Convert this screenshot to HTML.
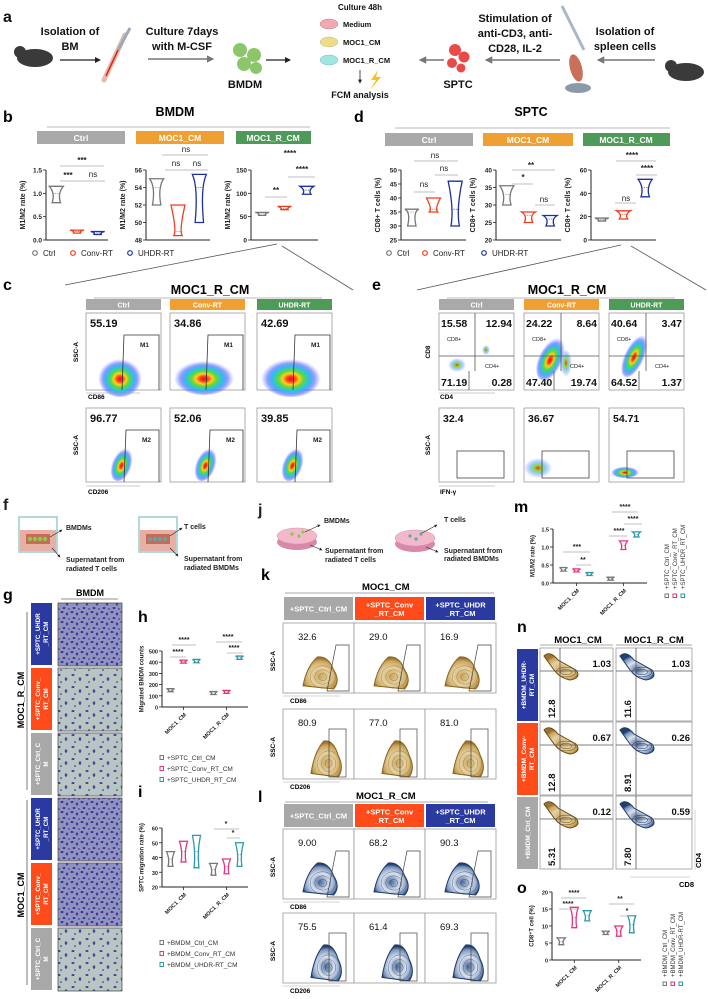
<!DOCTYPE html>
<html><head><meta charset="utf-8"><title>Figure</title>
<style>
html,body{margin:0;padding:0;background:#fff;}
svg{display:block;font-family:"Liberation Sans",Arial,sans-serif;}
.b{font-weight:bold;}
</style></head>
<body>
<svg id="fig" width="708" height="999" viewBox="0 0 708 999">
<defs>
<radialGradient id="pc" cx="50%" cy="55%" r="50%">
<stop offset="0" stop-color="#e0101a"/><stop offset="0.14" stop-color="#ff4020"/><stop offset="0.28" stop-color="#ffd01e"/><stop offset="0.42" stop-color="#5fd83a"/><stop offset="0.6" stop-color="#28c4e6"/><stop offset="0.8" stop-color="#3c58ff" stop-opacity="0.55"/><stop offset="1" stop-color="#6070ff" stop-opacity="0"/>
</radialGradient>
<radialGradient id="pcSparse" cx="50%" cy="50%" r="50%">
<stop offset="0" stop-color="#ff3020"/><stop offset="0.3" stop-color="#8be040"/><stop offset="0.6" stop-color="#40a0ff" stop-opacity="0.5"/><stop offset="1" stop-color="#6070ff" stop-opacity="0"/>
</radialGradient>
<radialGradient id="gold" cx="50%" cy="60%" r="55%">
<stop offset="0" stop-color="#c9a661"/><stop offset="0.5" stop-color="#e5d2a3"/><stop offset="0.85" stop-color="#caa55c"/><stop offset="1" stop-color="#9a7430"/>
</radialGradient>
<radialGradient id="navy" cx="50%" cy="60%" r="55%">
<stop offset="0" stop-color="#4a6898"/><stop offset="0.5" stop-color="#dbe3ef"/><stop offset="0.85" stop-color="#7d95bd"/><stop offset="1" stop-color="#22406f"/>
</radialGradient>
<pattern id="cellsLight" width="14" height="12" patternUnits="userSpaceOnUse">
<rect width="14" height="12" fill="#b8c6c3"/>
<ellipse cx="3" cy="3" rx="1.6" ry="1" fill="#4b3d9b"/><ellipse cx="10" cy="7" rx="1.3" ry="1.8" fill="#5244a3"/><ellipse cx="5" cy="10" rx="1" ry="0.8" fill="#4b3d9b"/>
</pattern>
<pattern id="cellsDense" width="10" height="10" patternUnits="userSpaceOnUse">
<rect width="10" height="10" fill="#8e93bf"/>
<ellipse cx="2" cy="2" rx="1.5" ry="1" fill="#3d2f8f"/><ellipse cx="7" cy="4" rx="1.2" ry="1.5" fill="#44369a"/><ellipse cx="4" cy="8" rx="1.4" ry="1" fill="#3d2f8f"/><ellipse cx="9" cy="9" rx="0.9" ry="0.9" fill="#4a3ca0"/>
</pattern>
<marker id="arr" viewBox="0 0 6 6" refX="5" refY="3" markerWidth="5" markerHeight="5" orient="auto"><path d="M0,0L6,3L0,6z" fill="#222"/></marker>
<marker id="arrG" viewBox="0 0 6 6" refX="5" refY="3" markerWidth="5" markerHeight="5" orient="auto"><path d="M0,0L6,3L0,6z" fill="#777"/></marker>
</defs>

<!-- Panel a -->
<g font-weight="bold" font-size="11" fill="#111">
<text x="3" y="22" font-size="16">a</text>
<ellipse cx="35" cy="58" rx="18" ry="9" fill="#3a3a3a"/>
<circle cx="20" cy="52" r="6" fill="#3a3a3a"/>
<text x="70" y="35" text-anchor="middle">Isolation of</text>
<text x="70" y="50" text-anchor="middle">BM</text>
<line x1="60" y1="60" x2="100" y2="60" stroke="#222" stroke-width="1.2" marker-end="url(#arr)"/>
<line x1="104" y1="80" x2="125" y2="35" stroke="#e8b8a8" stroke-width="5" stroke-linecap="round"/>
<line x1="106" y1="76" x2="118" y2="50" stroke="#d8281c" stroke-width="1.5"/>
<line x1="118" y1="50" x2="130" y2="28" stroke="#9ab" stroke-width="3"/>
<text x="182" y="35" text-anchor="middle">Culture 7days</text>
<text x="182" y="50" text-anchor="middle">with M-CSF</text>
<line x1="148" y1="59" x2="213" y2="59" stroke="#777" stroke-width="1.5" marker-end="url(#arrG)"/>
<g fill="#8cc66a"><circle cx="240" cy="50" r="7"/><circle cx="254" cy="55" r="7"/><circle cx="244" cy="64" r="7"/><circle cx="256" cy="68" r="6"/></g>
<text x="245" y="88" text-anchor="middle">BMDM</text>
<line x1="266" y1="60" x2="290" y2="60" stroke="#222" stroke-width="1.2" marker-end="url(#arr)"/>
<text x="360" y="10" text-anchor="middle" font-size="8">Culture 48h</text>
<ellipse cx="329" cy="24" rx="9" ry="5" fill="#f0a8b4" stroke="#c77" stroke-width="0.5"/>
<ellipse cx="329" cy="42" rx="9" ry="5" fill="#eedd88" stroke="#bb9" stroke-width="0.5"/>
<ellipse cx="329" cy="60" rx="9" ry="5" fill="#9ee6e2" stroke="#7bb" stroke-width="0.5"/>
<text x="343" y="27" font-size="7.5">Medium</text>
<text x="343" y="45" font-size="7.5">MOC1_CM</text>
<text x="343" y="63" font-size="7.5">MOC1_R_CM</text>
<line x1="360" y1="70" x2="360" y2="83" stroke="#222" stroke-width="0.8" marker-end="url(#arr)"/>
<path d="M378,70 L371,80 L376,80 L370,90 L381,77 L376,77z" fill="#f5c020"/>
<text x="360" y="98" text-anchor="middle" font-size="9">FCM analysis</text>
<line x1="444" y1="60" x2="420" y2="60" stroke="#777" stroke-width="1.5" marker-end="url(#arrG)"/>
<g fill="#e84a48"><circle cx="455" cy="50" r="6"/><circle cx="464" cy="57" r="5.5"/><circle cx="452" cy="63" r="5"/><circle cx="461" cy="68" r="4.5"/></g>
<text x="458" y="88" text-anchor="middle">SPTC</text>
<line x1="560" y1="60" x2="486" y2="60" stroke="#777" stroke-width="1.5" marker-end="url(#arrG)"/>
<text x="515" y="22" text-anchor="middle">Stimulation of</text>
<text x="515" y="37" text-anchor="middle">anti-CD3, anti-</text>
<text x="515" y="52" text-anchor="middle">CD28, IL-2</text>
<line x1="562" y1="6" x2="584" y2="50" stroke="#a8b8c8" stroke-width="3"/>
<ellipse cx="576" cy="68" rx="6" ry="14" fill="#c9705a" transform="rotate(-15 576 68)"/>
<ellipse cx="578" cy="88" rx="13" ry="5" fill="#8a9aa8"/>
<text x="625" y="35" text-anchor="middle">Isolation of</text>
<text x="625" y="50" text-anchor="middle">spleen cells</text>
<line x1="655" y1="60" x2="598" y2="60" stroke="#777" stroke-width="1.5" marker-end="url(#arrG)"/>
<ellipse cx="686" cy="72" rx="18" ry="9" fill="#3a3a3a"/>
<circle cx="671" cy="66" r="6" fill="#3a3a3a"/>
</g>

<!-- Panel b / d headers -->
<g font-weight="bold">
<text x="3" y="122" font-size="16">b</text>
<text x="175" y="116" text-anchor="middle" font-size="12.5">BMDM</text>
<line x1="47" y1="127" x2="310" y2="127" stroke="#bbb" stroke-width="1"/>
<rect x="37" y="131" width="88" height="13" fill="#a9a9a9"/>
<text x="81" y="141" text-anchor="middle" font-size="8.5" fill="#fff">Ctrl</text>
<rect x="136" y="131" width="88" height="13" fill="#f0a033"/>
<text x="180" y="141" text-anchor="middle" font-size="8.5" fill="#fff">MOC1_CM</text>
<rect x="236" y="131" width="75" height="13" fill="#4e9a58"/>
<text x="273" y="141" text-anchor="middle" font-size="8.5" fill="#fff">MOC1_R_CM</text>
</g>
<g font-weight="bold">
<text x="354" y="122" font-size="16">d</text>
<text x="531" y="116" text-anchor="middle" font-size="12.5">SPTC</text>
<line x1="395" y1="128" x2="670" y2="128" stroke="#bbb" stroke-width="1"/>
<rect x="385" y="133" width="88" height="13" fill="#a9a9a9"/>
<text x="429" y="143" text-anchor="middle" font-size="8.5" fill="#fff">Ctrl</text>
<rect x="483" y="133" width="90" height="13" fill="#f0a033"/>
<text x="528" y="143" text-anchor="middle" font-size="8.5" fill="#fff">MOC1_CM</text>
<rect x="583" y="133" width="87" height="13" fill="#4e9a58"/>
<text x="626" y="143" text-anchor="middle" font-size="8.5" fill="#fff">MOC1_R_CM</text>
</g>

<!-- Significance annotations b/d -->
<g font-size="8" font-weight="bold" fill="#222" stroke-width="0.8">
<text x="82" y="163" text-anchor="middle">***</text><line x1="60" y1="166" x2="104" y2="166" stroke="#aaa"/>
<text x="68" y="178" text-anchor="middle">***</text><text x="93" y="177" text-anchor="middle" font-weight="normal">ns</text><line x1="60" y1="181" x2="105" y2="181" stroke="#aaa"/>
<text x="186" y="152" text-anchor="middle" font-weight="normal">ns</text><line x1="162" y1="155" x2="208" y2="155" stroke="#aaa"/>
<text x="176" y="166" text-anchor="middle" font-weight="normal">ns</text><text x="197" y="166" text-anchor="middle" font-weight="normal">ns</text><line x1="165" y1="170" x2="208" y2="170" stroke="#aaa"/>
<text x="290" y="156" text-anchor="middle">****</text>
<text x="302" y="172" text-anchor="middle">****</text><line x1="288" y1="177" x2="315" y2="177" stroke="#aaa"/>
<text x="276" y="193" text-anchor="middle">**</text><line x1="265" y1="197" x2="287" y2="197" stroke="#aaa"/>
<text x="435" y="158" text-anchor="middle" font-weight="normal">ns</text><line x1="414" y1="161" x2="458" y2="161" stroke="#aaa"/>
<text x="444" y="171" text-anchor="middle" font-weight="normal">ns</text><line x1="435" y1="175" x2="458" y2="175" stroke="#aaa"/>
<text x="424" y="187" text-anchor="middle" font-weight="normal">ns</text><line x1="414" y1="192" x2="435" y2="192" stroke="#aaa"/>
<text x="531" y="168" text-anchor="middle">**</text><line x1="512" y1="170" x2="555" y2="170" stroke="#aaa"/>
<text x="523" y="180" text-anchor="middle">*</text><line x1="512" y1="184" x2="533" y2="184" stroke="#aaa"/>
<text x="544" y="202" text-anchor="middle" font-weight="normal">ns</text><line x1="535" y1="205" x2="555" y2="205" stroke="#aaa"/>
<text x="632" y="158" text-anchor="middle">****</text><line x1="616" y1="161" x2="656" y2="161" stroke="#aaa"/>
<text x="647" y="171" text-anchor="middle">****</text><line x1="636" y1="175" x2="657" y2="175" stroke="#aaa"/>
<text x="626" y="201" text-anchor="middle" font-weight="normal">ns</text><line x1="615" y1="203" x2="636" y2="203" stroke="#aaa"/>
</g>

<!-- legends b/d -->
<g font-size="8" fill="#222">
<circle cx="35" cy="253" r="2.3" fill="none" stroke="#777" stroke-width="1.2"/><text x="43" y="256">Ctrl</text>
<circle cx="73" cy="253" r="2.3" fill="none" stroke="#f03c1e" stroke-width="1.2"/><text x="81" y="256">Conv-RT</text>
<circle cx="130" cy="253" r="2.3" fill="none" stroke="#1f2fa0" stroke-width="1.2"/><text x="138" y="256">UHDR-RT</text>
</g>
<g font-size="8" fill="#222">
<circle cx="389" cy="253" r="2.3" fill="none" stroke="#777" stroke-width="1.2"/><text x="397" y="256">Ctrl</text>
<circle cx="425" cy="253" r="2.3" fill="none" stroke="#f03c1e" stroke-width="1.2"/><text x="433" y="256">Conv-RT</text>
<circle cx="484" cy="253" r="2.3" fill="none" stroke="#1f2fa0" stroke-width="1.2"/><text x="492" y="256">UHDR-RT</text>
</g>
<g stroke="#555" stroke-width="0.8">
<line x1="277" y1="244" x2="65" y2="285"/><line x1="282" y1="246" x2="353" y2="290"/>
<line x1="621" y1="245" x2="417" y2="290"/><line x1="631" y1="246" x2="706" y2="290"/>
</g>

<!-- c / e titles -->
<g font-weight="bold">
<text x="3" y="290" font-size="16">c</text>
<text x="210" y="294" text-anchor="middle" font-size="12.5">MOC1_R_CM</text>
<line x1="94" y1="298" x2="322" y2="298" stroke="#bbb"/>
<text x="372" y="290" font-size="16">e</text>
<text x="567" y="294" text-anchor="middle" font-size="12.5">MOC1_R_CM</text>
<line x1="447" y1="298" x2="675" y2="298" stroke="#bbb"/>
</g>
<g id="flowC"></g>
<g id="flowE"></g>

<!-- f / j -->
<g font-size="7" font-weight="bold" fill="#222">
<text x="3" y="510" font-size="16">f</text>
<rect x="19" y="517" width="38" height="35" fill="none" stroke="#9cc" stroke-width="1.5"/>
<rect x="20" y="530" width="36" height="21" fill="#e8b0a4"/>
<rect x="26" y="534" width="24" height="10" fill="#c86a5a"/>
<g fill="#8c4"><circle cx="30" cy="539" r="2.2"/><circle cx="35" cy="539" r="2.2"/><circle cx="40" cy="539" r="2.2"/><circle cx="45" cy="539" r="2.2"/></g>
<line x1="50" y1="537" x2="62" y2="530" stroke="#222" stroke-width="0.6" marker-end="url(#arr)"/>
<line x1="52" y1="548" x2="60" y2="557" stroke="#222" stroke-width="0.6" marker-end="url(#arr)"/>
<text x="66" y="530">BMDMs</text><text x="66" y="562">Supernatant from</text><text x="66" y="571">radiated T cells</text>
<rect x="139" y="517" width="38" height="35" fill="none" stroke="#9cc" stroke-width="1.5"/>
<rect x="140" y="530" width="36" height="21" fill="#e8b0a4"/>
<rect x="146" y="534" width="24" height="10" fill="#c86a5a"/>
<g fill="#5aa"><circle cx="150" cy="539" r="2"/><circle cx="155" cy="539" r="2"/><circle cx="160" cy="539" r="2"/><circle cx="165" cy="539" r="2"/></g>
<line x1="170" y1="536" x2="182" y2="528" stroke="#222" stroke-width="0.6" marker-end="url(#arr)"/>
<line x1="170" y1="548" x2="178" y2="556" stroke="#222" stroke-width="0.6" marker-end="url(#arr)"/>
<text x="184" y="529">T cells</text><text x="184" y="561">Supernatant from</text><text x="184" y="570">radiated BMDMs</text>
</g>
<g font-size="7" font-weight="bold" fill="#222">
<text x="258" y="515" font-size="16">j</text>
<ellipse cx="297" cy="542" rx="20" ry="8" fill="#d888a8"/><ellipse cx="297" cy="536" rx="20" ry="8" fill="#f4b8cc" stroke="#c99" stroke-width="0.5"/>
<g fill="#8c4"><circle cx="292" cy="534" r="1.6"/><circle cx="299" cy="536" r="1.6"/><circle cx="303" cy="532" r="1.6"/></g>
<line x1="305" y1="532" x2="320" y2="525" stroke="#222" stroke-width="0.6" marker-end="url(#arr)"/>
<line x1="310" y1="545" x2="322" y2="550" stroke="#222" stroke-width="0.6" marker-end="url(#arr)"/>
<text x="324" y="523">BMDMs</text><text x="325" y="553">Supernatant from</text><text x="325" y="562">radiated T cells</text>
<ellipse cx="415" cy="544" rx="20" ry="8" fill="#d888a8"/><ellipse cx="415" cy="538" rx="20" ry="8" fill="#f4b8cc" stroke="#c99" stroke-width="0.5"/>
<g fill="#5aa"><circle cx="410" cy="536" r="1.6"/><circle cx="416" cy="539" r="1.6"/><circle cx="421" cy="534" r="1.6"/></g>
<line x1="422" y1="533" x2="437" y2="525" stroke="#222" stroke-width="0.6" marker-end="url(#arr)"/>
<line x1="426" y1="547" x2="438" y2="552" stroke="#222" stroke-width="0.6" marker-end="url(#arr)"/>
<text x="444" y="522">T cells</text><text x="444" y="553">Supernatant from</text><text x="444" y="561">radiated BMDMs</text>
</g>

<!-- g -->
<g>
<text x="3" y="600" font-size="16" font-weight="bold">g</text>
<text x="90" y="596" text-anchor="middle" font-size="9" font-weight="bold">BMDM</text>
<line x1="61" y1="599" x2="118" y2="599" stroke="#222" stroke-width="0.6"/>
<line x1="27" y1="612" x2="27" y2="790" stroke="#222" stroke-width="0.6"/>
<line x1="27" y1="800" x2="27" y2="985" stroke="#222" stroke-width="0.6"/>
<text transform="translate(24 700) rotate(-90)" text-anchor="middle" font-size="9" font-weight="bold">MOC1_R_CM</text>
<text transform="translate(24 895) rotate(-90)" text-anchor="middle" font-size="9" font-weight="bold">MOC1_CM</text>
</g>
<g id="gRows"></g>

<!-- k / l titles -->
<g font-weight="bold">
<text x="261" y="580" font-size="16">k</text>
<text x="362" y="590" font-size="9.5">MOC1_CM</text>
<line x1="285" y1="593" x2="494" y2="593" stroke="#555" stroke-width="0.6"/>
<text x="258" y="802" font-size="16">l</text>
<text x="356" y="799" font-size="9.5">MOC1_R_CM</text>
<line x1="285" y1="802" x2="488" y2="802" stroke="#555" stroke-width="0.6"/>
</g>
<g id="flowK"></g>
<g id="flowL"></g>

<!-- n -->
<g font-weight="bold">
<text x="517" y="632" font-size="16">n</text>
<text x="578" y="643" text-anchor="middle" font-size="9.5">MOC1_CM</text>
<line x1="540" y1="645" x2="613" y2="645" stroke="#555" stroke-width="0.6"/>
<text x="654" y="643" text-anchor="middle" font-size="9.5">MOC1_R_CM</text>
<line x1="616" y1="645" x2="692" y2="645" stroke="#555" stroke-width="0.6"/>
<text x="679" y="887" font-size="7.5">CD8</text>
<line x1="630" y1="877" x2="690" y2="877" stroke="#aaa" stroke-width="0.5"/>
<text transform="translate(701 868) rotate(-90)" font-size="7.5">CD4</text>
<line x1="695" y1="810" x2="695" y2="870" stroke="#aaa" stroke-width="0.5"/>
</g>
<g id="flowN"></g>

<!-- chart groups -->
<g id="chartB"></g>
<g id="chartD"></g>
<g id="chartH"></g>
<g id="chartI"></g>
<g id="chartM"></g>
<g id="chartO"></g>

<g font-weight="bold">
<text x="138" y="622" font-size="16">h</text>
<text x="138" y="797" font-size="16">i</text>
<text x="514" y="512" font-size="16">m</text>
<text x="517" y="893" font-size="16">o</text>
</g>
<g font-size="7" font-weight="bold" fill="#222" stroke-width="0.7">
<text x="184" y="642" text-anchor="middle">****</text><line x1="172" y1="645" x2="196" y2="645" stroke="#aaa"/>
<text x="178" y="654" text-anchor="middle">****</text><line x1="170" y1="657" x2="186" y2="657" stroke="#aaa"/>
<text x="228" y="639" text-anchor="middle">****</text><line x1="216" y1="642" x2="242" y2="642" stroke="#aaa"/>
<text x="234" y="650" text-anchor="middle">****</text><line x1="227" y1="653" x2="243" y2="653" stroke="#aaa"/>
<text x="226" y="826" text-anchor="middle">*</text><line x1="214" y1="829" x2="239" y2="829" stroke="#aaa"/>
<text x="233" y="835" text-anchor="middle">*</text><line x1="227" y1="838" x2="240" y2="838" stroke="#aaa"/>
<text x="625" y="509" text-anchor="middle">****</text><line x1="612" y1="512" x2="638" y2="512" stroke="#aaa"/>
<text x="633" y="521" text-anchor="middle">****</text><line x1="624" y1="524" x2="642" y2="524" stroke="#aaa"/>
<text x="619" y="533" text-anchor="middle">****</text><line x1="609" y1="536" x2="627" y2="536" stroke="#aaa"/>
<text x="577" y="549" text-anchor="middle">***</text><line x1="563" y1="552" x2="590" y2="552" stroke="#aaa"/>
<text x="583" y="562" text-anchor="middle">**</text><line x1="576" y1="565" x2="591" y2="565" stroke="#aaa"/>
<text x="574" y="895" text-anchor="middle">****</text><line x1="561" y1="898" x2="586" y2="898" stroke="#aaa"/>
<text x="568" y="906" text-anchor="middle">****</text><line x1="559" y1="909" x2="577" y2="909" stroke="#aaa"/>
<text x="620" y="901" text-anchor="middle">**</text><line x1="609" y1="904" x2="634" y2="904" stroke="#aaa"/>
<text x="627" y="913" text-anchor="middle">*</text><line x1="620" y1="916" x2="634" y2="916" stroke="#aaa"/>
</g>
</svg>

<script>
// ---------- Data ----------
const condNames = ['Ctrl', 'Conv-RT', 'UHDR-RT'];
const condColors = ['#777777', '#f03c1e', '#1f2fa0'];
// panel b
const b1Mean = [1.0, 0.18, 0.15], b1Lo = [0.8, 0.17, 0.14], b1Hi = [1.15, 0.19, 0.16];
const b1Ticks = [0, 0.5, 1.0, 1.5], b1Labels = ['0.0', '0.5', '1.0', '1.5'];
const b2Mean = [54, 49, 54], b2Lo = [52, 48.5, 50], b2Hi = [55, 52, 55.5];
const b2Ticks = [48, 50, 52, 54, 56], b2Labels = ['48', '50', '52', '54', '56'];
const b3Mean = [56, 68, 107], b3Lo = [52, 65, 98], b3Hi = [58, 72, 115];
const b3Ticks = [0, 50, 100, 150], b3Labels = ['0', '50', '100', '150'];
// panel d
const d1Mean = [35, 36, 36], d1Lo = [30, 35, 30], d1Hi = [36, 40, 46];
const d1Ticks = [25, 30, 35, 40, 45, 50], d1Labels = ['25', '30', '35', '40', '45', '50'];
const d2Mean = [33, 27, 26], d2Lo = [30, 25, 24], d2Hi = [35.5, 28, 27];
const d2Ticks = [20, 25, 30, 35, 40], d2Labels = ['20', '25', '30', '35', '40'];
const d3Mean = [17.5, 22, 45], d3Lo = [16, 18, 37], d3Hi = [18.5, 25, 52];
const d3Ticks = [0, 20, 40, 60], d3Labels = ['0', '20', '40', '60'];
// grouped charts
const groups = ['MOC1_CM', 'MOC1_R_CM'];
const hCtrl = [150, 125], hConv = [405, 135], hUhdr = [410, 440];
const hSpread = [[10, 8], [8, 6], [15, 15]];
const hTicks = [0, 100, 200, 300, 400, 500], hLabels = ['0', '100', '200', '300', '400', '500'];
const iCtrl = [39, 32], iConv = [44, 34], iUhdr = [44, 42];
const iSpread = [[5, 4], [7, 5], [11, 8]];
const iTicks = [20, 30, 40, 50, 60], iLabels = ['20', '30', '40', '50', '60'];
const mCtrl = [0.38, 0.12], mConv = [0.35, 1.05], mUhdr = [0.25, 1.35];
const mSpread = [[0.05, 0.01], [0.03, 0.12], [0.04, 0.07]];
const mTicks = [0, 0.5, 1.0, 1.5], mLabels = ['0.0', '0.5', '1.0', '1.5'];
const oCtrl = [5.5, 8], oConv = [12.5, 8.5], oUhdr = [13, 10.5];
const oSpread = [[1, 0.5], [3, 1.5], [1.5, 2.5]];
const oTicks = [0, 5, 10, 15, 20], oLabels = ['0', '5', '10', '15', '20'];
// flow numbers
const cRow1 = ['55.19', '34.86', '42.69'], cRow2 = ['96.77', '52.06', '39.85'];
const eQuadTL = ['15.58', '24.22', '40.64'], eQuadTR = ['12.94', '8.64', '3.47'];
const eQuadBL = ['71.19', '47.40', '64.52'], eQuadBR = ['0.28', '19.74', '1.37'];
const eIfng = ['32.4', '36.67', '54.71'];
const kCD86 = ['32.6', '29.0', '16.9'], kCD206 = ['80.9', '77.0', '81.0'];
const lCD86 = ['9.00', '68.2', '90.3'], lCD206 = ['75.5', '61.4', '69.3'];
const nCD4 = [['1.03', '1.03'], ['0.67', '0.26'], ['0.12', '0.59']];
const nCD8 = [['12.8', '11.6'], ['12.8', '8.91'], ['5.31', '7.80']];

const NS = 'http://www.w3.org/2000/svg';
function mk(tag, attrs, parent) {
  const e = document.createElementNS(NS, tag);
  for (const k in attrs) e.setAttribute(k, attrs[k]);
  parent.appendChild(e);
  return e;
}
function txt(s, attrs, parent) { const t = mk('text', attrs, parent); t.textContent = s; return t; }

// ---------- axes ----------
function yAxis(g, box, dom, ticks, labels, title, fs) {
  const sy = v => box.yb - (v - dom[0]) / (dom[1] - dom[0]) * (box.yb - box.yt);
  const ax = mk('line', {x1: box.x0, y1: box.yb, x2: box.x0, y2: box.yt, stroke: '#222', 'stroke-width': 1}, g);
  
  
  const xx = mk('line', {x1: box.x0, y1: box.yb, x2: box.x1, y2: box.yb, stroke: '#222', 'stroke-width': 1}, g);
  
  
  ticks.forEach((t, i) => {
    mk('line', {x1: box.x0 - 3, y1: sy(t), x2: box.x0, y2: sy(t), stroke: '#222', 'stroke-width': 0.8}, g);
    const tl = txt(labels[i], {x: box.x0 - 4, y: sy(t) + 2.5, 'text-anchor': 'end', 'font-size': fs, 'font-weight': 'bold', fill: '#222'}, g);
    
    
  });
  const yt = txt(title, {transform: 'translate(' + (box.x0 - (fs * 2.6 + 4)) + ' ' + ((box.yb + box.yt) / 2) + ') rotate(-90)', 'text-anchor': 'middle', 'font-size': fs + 0.5, 'font-weight': 'bold', fill: '#222'}, g);
  
  
  return sy;
}
function violin(g, cx, yMid, yLo, yHi, w, col) {
  const p = mk('path', {d: 'M' + (cx - w) + ',' + yHi + ' L' + (cx + w) + ',' + yHi + ' Q' + (cx + w * 0.15) + ',' + yMid + ' ' + (cx + w * 0.6) + ',' + yLo + ' L' + (cx - w * 0.6) + ',' + yLo + ' Q' + (cx - w * 0.15) + ',' + yMid + ' ' + (cx - w) + ',' + yHi + 'Z', fill: 'none', stroke: col, 'stroke-width': 1.3}, g);
  mk('line', {x1: cx - w * 0.6, y1: yMid, x2: cx + w * 0.6, y2: yMid, stroke: col, 'stroke-width': 0.6, 'stroke-dasharray': '1.5,1'}, g);
  return p;
}
function condChart(gid, box, dom, ticks, labels, title, means, los, his) {
  const g = document.getElementById(gid);
  const sy = yAxis(g, box, dom, ticks, labels, title, 6.5);
  const step = (box.x1 - box.x0) / 3;
  means.forEach((m, i) => {
    const cx = box.x0 + step * (i + 0.5);
    const minH = 1.5;
    let yl = sy(los[i]), yh = sy(his[i]);
    if (yl - yh < minH * 2) { yl = sy(m) + minH; yh = sy(m) - minH; }
    const v = violin(g, cx, sy(m), yl, yh, 7, condColors[i]);
    
    
  });
}
const gB = document.getElementById('chartB');
condChart('chartB', {x0: 46, x1: 108, yb: 240, yt: 170}, [0, 1.5], b1Ticks, b1Labels, 'M1/M2 rate (%)', b1Mean, b1Lo, b1Hi);
condChart('chartB', {x0: 146, x1: 210, yb: 240, yt: 170}, [48, 56], b2Ticks, b2Labels, 'M1/M2 rate (%)', b2Mean, b2Lo, b2Hi);
condChart('chartB', {x0: 251, x1: 318, yb: 240, yt: 170}, [0, 150], b3Ticks, b3Labels, 'M1/M2 rate (%)', b3Mean, b3Lo, b3Hi);
condChart('chartD', {x0: 401, x1: 466, yb: 240, yt: 170}, [25, 50], d1Ticks, d1Labels, 'CD8+ T cells (%)', d1Mean, d1Lo, d1Hi);
condChart('chartD', {x0: 496, x1: 561, yb: 240, yt: 170}, [20, 40], d2Ticks, d2Labels, 'CD8+ T cells (%)', d2Mean, d2Lo, d2Hi);
condChart('chartD', {x0: 591, x1: 656, yb: 240, yt: 170}, [0, 60], d3Ticks, d3Labels, 'CD8+ T cells (%)', d3Mean, d3Lo, d3Hi);

const grpColors = ['#777777', '#e8327c', '#2a9aa8'];
function groupChart(gid, box, dom, ticks, labels, title, series, spread, legendNames, legend) {
  const g = document.getElementById(gid);
  const sy = yAxis(g, box, dom, ticks, labels, title, 5.5);
  const step = (box.x1 - box.x0) / 2;
  groups.forEach((gn, gi) => {
    const gc = box.x0 + step * (gi + 0.5);
    mk('line', {x1: gc, y1: box.yb, x2: gc, y2: box.yb + 3, stroke: '#222', 'stroke-width': 0.8}, g);
    const xl = txt(gn, {transform: 'translate(' + (gc + 3) + ' ' + (box.yb + 8) + ') rotate(-45)', 'text-anchor': 'end', 'font-size': 5.5, 'font-weight': 'bold', fill: '#222'}, g);
    
    
    series.forEach((s, si) => {
      const cx = gc + (si - 1) * 13;
      const sp = spread[si][gi];
      let yl = sy(s[gi] - sp), yh = sy(s[gi] + sp);
      if (yl - yh < 3) { yl = sy(s[gi]) + 1.5; yh = sy(s[gi]) - 1.5; }
      const v = violin(g, cx, sy(s[gi]), yl, yh, 4, grpColors[si]);
      
      
    });
  });
  legendNames.forEach((n, i) => {
    if (legend.rot) {
      const lx = legend.x + i * 8;
      mk('rect', {x: lx - 2, y: legend.y + 2, width: 3.5, height: 3.5, fill: 'none', stroke: grpColors[i], 'stroke-width': 1}, g);
      const lt = txt(n, {transform: 'translate(' + (lx + 2) + ' ' + (legend.y - 3) + ') rotate(-90)', 'font-size': 6, fill: '#333'}, g);
      
      
    } else {
      const ly = legend.y + i * 11;
      mk('rect', {x: legend.x, y: ly - 4.5, width: 3.5, height: 4, fill: 'none', stroke: grpColors[i], 'stroke-width': 1}, g);
      const lt = txt(n, {x: legend.x + 7, y: ly, 'font-size': 6.5, fill: '#333'}, g);
      
      
    }
  });
}
groupChart('chartH', {x0: 162, x1: 248, yb: 707, yt: 651}, [0, 500], hTicks, hLabels, 'Migrated BMDM counts', [hCtrl, hConv, hUhdr], hSpread, ['+SPTC_Ctrl_CM', '+SPTC_Conv_RT_CM', '+SPTC_UHDR_RT_CM'], {x: 160, y: 760, rot: false});
groupChart('chartI', {x0: 162, x1: 248, yb: 887, yt: 828}, [20, 60], iTicks, iLabels, 'SPTC migration rate (%)', [iCtrl, iConv, iUhdr], iSpread, ['+BMDM_Ctrl_CM', '+BMDM_Conv_RT_CM', '+BMDM_UHDR-RT_CM'], {x: 160, y: 945, rot: false});
groupChart('chartM', {x0: 553, x1: 647, yb: 583, yt: 529}, [0, 1.5], mTicks, mLabels, 'M1/M2 rate (%)', [mCtrl, mConv, mUhdr], mSpread, ['+SPTC_Ctrl_CM', '+SPTC_Conv_RT_CM', '+SPTC_UHDR_RT_CM'], {x: 667, y: 592, rot: true});
groupChart('chartO', {x0: 552, x1: 641, yb: 960, yt: 892}, [0, 20], oTicks, oLabels, 'CD8\u207AT cell (%)', [oCtrl, oConv, oUhdr], oSpread, ['+BMDM_Ctrl_CM', '+BMDM_Conv_RT_CM', '+BMDM_UHDR-RT_CM'], {x: 665, y: 980, rot: true});

// ---------- header bars ----------
function header(g, x, y, w, h, fill, lines, fs, name) {
  const r = mk('rect', {x: x, y: y, width: w, height: h, fill: fill}, g);
  
  
  lines.forEach((l, i) => txt(l, {x: x + w / 2, y: y + h / 2 + 3 + (i - (lines.length - 1) / 2) * (fs + 1), 'text-anchor': 'middle', 'font-size': fs, 'font-weight': 'bold', fill: '#fff'}, g));
}

// ---------- panel c ----------
(function () {
  const g = document.getElementById('flowC');
  const xs = [86, 170, 257], w = 75, hdr = [['Ctrl', '#a9a9a9'], ['Conv-RT', '#f0a033'], ['UHDR-RT', '#4e9a58']];
  const blobW = [[22, 14], [30, 12], [30, 14]];
  xs.forEach((x, i) => {
    header(g, x, 299, w, 11, hdr[i][1], [hdr[i][0]], 7, 'header-c-' + hdr[i][0].toLowerCase());
    [[313, cRow1[i], 'M1'], [408, cRow2[i], 'M2']].forEach((r, ri) => {
      const y = r[0], h = ri === 0 ? 77 : 74;
      const box = mk('rect', {x: x, y: y, width: w, height: h, fill: '#fff', stroke: '#999', 'stroke-width': 0.8}, g);
      
      
      if (ri === 0) mk('ellipse', {cx: x + 34, cy: y + 64, rx: blobW[i][0], ry: blobW[i][1] + 6, fill: 'url(#pc)'}, g);
      else mk('ellipse', {cx: x + 36, cy: y + 56, rx: 10, ry: 18, fill: 'url(#pc)', transform: 'rotate(20 ' + (x + 36) + ' ' + (y + 56) + ')'}, g);
      const gx = x + (ri === 0 ? 38 : 40);
      mk('path', {d: 'M' + (gx - 2) + ',' + (y + h) + ' L' + gx + ',' + (y + 22) + ' L' + (x + w - 2) + ',' + (y + 22) + ' L' + (x + w - 2) + ',' + (y + h), fill: 'none', stroke: '#333', 'stroke-width': 0.8}, g);
      txt(r[2], {x: gx + 16, y: y + 34, 'font-size': 6.5, 'font-weight': 'bold', fill: '#222'}, g);
      const n = txt(r[1], {x: x + 4, y: y + 14, 'font-size': 11, 'font-weight': 'bold', fill: '#111'}, g);
      
      
    });
  });
  txt('SSC-A', {transform: 'translate(78 352) rotate(-90)', 'text-anchor': 'middle', 'font-size': 6.5, 'font-weight': 'bold'}, g);
  txt('SSC-A', {transform: 'translate(78 445) rotate(-90)', 'text-anchor': 'middle', 'font-size': 6.5, 'font-weight': 'bold'}, g);
  txt('CD86', {x: 88, y: 399, 'font-size': 6.5, 'font-weight': 'bold'}, g);
  txt('CD206', {x: 88, y: 494, 'font-size': 6.5, 'font-weight': 'bold'}, g);
  mk('line', {x1: 86, y1: 393, x2: 140, y2: 393, stroke: '#999', 'stroke-width': 0.5}, g);
  mk('line', {x1: 86, y1: 486, x2: 140, y2: 486, stroke: '#999', 'stroke-width': 0.5}, g);
})();

// ---------- panel e ----------
(function () {
  const g = document.getElementById('flowE');
  const xs = [439, 524, 609], w = 75, hdr = [['Ctrl', '#a9a9a9'], ['Conv-RT', '#f0a033'], ['UHDR-RT', '#4e9a58']];
  xs.forEach((x, i) => {
    header(g, x, 299, w, 11, hdr[i][1], [hdr[i][0]], 7, 'header-e-' + hdr[i][0].toLowerCase());
    const y = 313, h = 77;
    const box = mk('rect', {x: x, y: y, width: w, height: h, fill: '#fff', stroke: '#999', 'stroke-width': 0.8}, g);
    
    
    if (i === 0) { mk('ellipse', {cx: x + 18, cy: y + 52, rx: 9, ry: 7, fill: 'url(#pcSparse)'}, g); mk('ellipse', {cx: x + 47, cy: y + 37, rx: 4, ry: 5, fill: 'url(#pcSparse)'}, g); }
    if (i === 1) { mk('ellipse', {cx: x + 27, cy: y + 45, rx: 12, ry: 24, fill: 'url(#pc)', transform: 'rotate(25 ' + (x + 27) + ' ' + (y + 45) + ')'}, g); mk('ellipse', {cx: x + 42, cy: y + 50, rx: 6, ry: 14, fill: 'url(#pcSparse)'}, g); }
    if (i === 2) { mk('ellipse', {cx: x + 26, cy: y + 42, rx: 10, ry: 24, fill: 'url(#pc)', transform: 'rotate(25 ' + (x + 26) + ' ' + (y + 42) + ')'}, g); }
    const vx = x + (i === 0 ? 36 : 37);
    mk('line', {x1: vx, y1: y, x2: vx, y2: y + 58, stroke: '#555', 'stroke-width': 0.8}, g);
    mk('line', {x1: x + 30, y1: y + 58, x2: x + 30, y2: y + h, stroke: '#555', 'stroke-width': 0.8}, g);
    mk('line', {x1: x, y1: y + 43, x2: x + w, y2: y + 43, stroke: '#555', 'stroke-width': 0.8}, g);
    const q = [[eQuadTL[i], x + 2, y + 14, 'start'], [eQuadTR[i], x + w - 2, y + 14, 'end'], [eQuadBL[i], x + 2, y + 73, 'start'], [eQuadBR[i], x + w - 2, y + 73, 'end']];
    q.forEach(v => {
      const n = txt(v[0], {x: v[1], y: v[2], 'text-anchor': v[3], 'font-size': 10.5, 'font-weight': 'bold', fill: '#111'}, g);
      
      
    });
    txt('CD8+', {x: x + 8, y: y + 28, 'font-size': 5.5, fill: '#222'}, g);
    txt('CD4+', {x: x + 46, y: y + 55, 'font-size': 5.5, fill: '#222'}, g);
    const y2 = 408, h2 = 74;
    const b2 = mk('rect', {x: x, y: y2, width: w, height: h2, fill: '#fff', stroke: '#999', 'stroke-width': 0.8}, g);
    
    
    if (i === 1) mk('ellipse', {cx: x + 14, cy: y2 + 60, rx: 14, ry: 10, fill: 'url(#pcSparse)'}, g);
    if (i === 2) mk('ellipse', {cx: x + 16, cy: y2 + 64, rx: 14, ry: 6, fill: 'url(#pc)'}, g);
    mk('rect', {x: x + 18, y: y2 + 43, width: 47, height: 27, fill: 'none', stroke: '#444', 'stroke-width': 0.8}, g);
    const n2 = txt(eIfng[i], {x: x + 4, y: y2 + 14, 'font-size': 10.5, 'font-weight': 'bold', fill: '#111'}, g);
    
    
  });
  txt('CD8', {transform: 'translate(430 352) rotate(-90)', 'text-anchor': 'middle', 'font-size': 6.5, 'font-weight': 'bold'}, g);
  txt('SSC-A', {transform: 'translate(430 445) rotate(-90)', 'text-anchor': 'middle', 'font-size': 6.5, 'font-weight': 'bold'}, g);
  txt('CD4', {x: 440, y: 399, 'font-size': 6.5, 'font-weight': 'bold'}, g);
  txt('IFN-\u03b3', {x: 440, y: 494, 'font-size': 6.5, 'font-weight': 'bold'}, g);
  mk('line', {x1: 439, y1: 393, x2: 495, y2: 393, stroke: '#999', 'stroke-width': 0.5}, g);
  mk('line', {x1: 439, y1: 486, x2: 495, y2: 486, stroke: '#999', 'stroke-width': 0.5}, g);
})();

// ---------- panel g rows ----------
(function () {
  const g = document.getElementById('gRows');
  const labs = [['+SPTC_UHDR', '_RT_CM', '#2a3aa0', 'cellsDense'], ['+SPTC_Conv_', 'RT_CM', '#ff4a1a', 'cellsLight'], ['+SPTC_Ctrl_C', 'M', '#a8a8a8', 'cellsLight'], ['+SPTC_UHDR', '_RT_CM', '#2a3aa0', 'cellsDense'], ['+SPTC_Conv_', 'RT_CM', '#ff4a1a', 'cellsDense'], ['+SPTC_Ctrl_C', 'M', '#a8a8a8', 'cellsLight']];
  labs.forEach((l, i) => {
    const y = 602 + i * 65;
    const r = mk('rect', {x: 31, y: y + 1, width: 21, height: 62, fill: l[2]}, g);
    
    
    txt(l[0], {transform: 'translate(40 ' + (y + 32) + ') rotate(-90)', 'text-anchor': 'middle', 'font-size': 6.2, 'font-weight': 'bold', fill: '#fff'}, g);
    txt(l[1], {transform: 'translate(48 ' + (y + 32) + ') rotate(-90)', 'text-anchor': 'middle', 'font-size': 6.2, 'font-weight': 'bold', fill: '#fff'}, g);
    const im = mk('rect', {x: 58, y: y + 1, width: 64, height: 63, fill: 'url(#' + l[3] + ')', stroke: '#555', 'stroke-width': 0.8}, g);
    
    
  });
})();

// ---------- contour plots k/l ----------
function contour(g, cx, cy, rx, ry, grad, stroke) {
  mk('path', {d: 'M' + (cx - rx) + ',' + (cy + ry * 0.8) + ' Q' + (cx - rx * 0.8) + ',' + (cy - ry * 0.4) + ' ' + (cx - rx * 0.2) + ',' + (cy - ry) + ' Q' + (cx + rx * 0.4) + ',' + (cy - ry * 1.1) + ' ' + (cx + rx * 0.7) + ',' + (cy - ry * 0.2) + ' Q' + (cx + rx * 1.1) + ',' + (cy + ry * 0.5) + ' ' + (cx + rx * 0.7) + ',' + (cy + ry) + ' Z', fill: 'url(#' + grad + ')', stroke: stroke, 'stroke-width': 1}, g);
  [0.7, 0.45, 0.22].forEach(f => mk('ellipse', {cx: cx + rx * 0.1, cy: cy + ry * 0.25, rx: rx * f, ry: ry * f, fill: 'none', stroke: stroke, 'stroke-width': 0.5, opacity: 0.7}, g));
}
function klPanel(gid, yHdr, rows, grad, stroke, hdrs) {
  const g = document.getElementById(gid);
  const xs = [283, 354, 425], w = 71;
  hdrs.forEach((h, i) => header(g, xs[i] + 1, yHdr, w - 2, 23, h[1], h[0], 7.5, 'header-' + gid + '-' + i));
  rows.forEach((r, ri) => {
    const y = r.y, h = 70;
    xs.forEach((x, i) => {
      const b = mk('rect', {x: x, y: y, width: w, height: h, fill: '#fff', stroke: '#999', 'stroke-width': 0.8}, g);
      
      
      if (ri === 0) { contour(g, x + 38, y + 50, 18, 16, grad, stroke); mk('path', {d: 'M' + (x + 44) + ',' + (y + h - 2) + ' L' + (x + 53) + ',' + (y + 22) + ' L' + (x + 66) + ',' + (y + 22) + ' L' + (x + 66) + ',' + (y + h - 2) + ' Z', fill: 'none', stroke: '#444', 'stroke-width': 0.7}, g); }
      else { contour(g, x + 44, y + 50, 16, 18, grad, stroke); mk('rect', {x: x + 46, y: y + 20, width: 17, height: 48, fill: 'none', stroke: '#444', 'stroke-width': 0.7}, g); }
      const n = txt(r.vals[i], {x: x + 15, y: y + 17, 'font-size': 9.5, fill: '#111'}, g);
      
      
    });
    txt('SSC-A', {transform: 'translate(275 ' + (y + 38) + ') rotate(-90)', 'text-anchor': 'middle', 'font-size': 6.5, 'font-weight': 'bold'}, g);
    txt(r.lab, {x: 290, y: y + h + 10, 'font-size': 6.5, 'font-weight': 'bold'}, g);
    mk('line', {x1: 283, y1: y + h + 3, x2: 340, y2: y + h + 3, stroke: '#aaa', 'stroke-width': 0.5}, g);
  });
}
klPanel('flowK', 597, [{y: 623, vals: kCD86, lab: 'CD86'}, {y: 709, vals: kCD206, lab: 'CD206'}], 'gold', '#8a6420', [[['+SPTC_Ctrl_CM'], '#a8a8a8'], [['+SPTC_Conv', '_RT_CM'], '#ff4a1a'], [['+SPTC_UHDR', '_RT_CM'], '#2a3aa0']]);
klPanel('flowL', 804, [{y: 829, vals: lCD86, lab: 'CD86'}, {y: 913, vals: lCD206, lab: 'CD206'}], 'navy', '#1e3a6a', [[['+SPTC_Ctrl_CM'], '#a8a8a8'], [['+SPTC_Conv', '_RT_CM'], '#ff4a1a'], [['+SPTC_UHDR', '_RT_CM'], '#2a3aa0']]);

// ---------- panel n ----------
(function () {
  const g = document.getElementById('flowN');
  const rowY = [648, 722, 796], cols = [540, 616], cw = [73, 76], h = 73;
  const rl = [['+BMDM_UHDR-', 'RT_CM', '#2a3aa0'], ['+BMDM_Conv-', 'RT_CM', '#ff4a1a'], ['+BMDM_Ctrl_CM', '', '#a8a8a8']];
  rowY.forEach((y, ri) => {
    const r = mk('rect', {x: 517, y: y + 1, width: 21, height: h - 1, fill: rl[ri][2]}, g);
    
    
    txt(rl[ri][0], {transform: 'translate(' + (rl[ri][1] ? 526 : 530) + ' ' + (y + 37) + ') rotate(-90)', 'text-anchor': 'middle', 'font-size': 6.5, 'font-weight': 'bold', fill: '#fff'}, g);
    if (rl[ri][1]) txt(rl[ri][1], {transform: 'translate(534 ' + (y + 37) + ') rotate(-90)', 'text-anchor': 'middle', 'font-size': 6.5, 'font-weight': 'bold', fill: '#fff'}, g);
    cols.forEach((x, ci) => {
      const b = mk('rect', {x: x, y: y, width: cw[ci], height: h, fill: '#fff', stroke: '#999', 'stroke-width': 0.8}, g);
      
      
      const gr = ci === 0 ? 'gold' : 'navy', st = ci === 0 ? '#6a4a18' : '#1e3a6a';
      mk('path', {d: 'M' + (x + 4) + ',' + (y + 8) + ' Q' + (x + 10) + ',' + (y + 2) + ' ' + (x + 18) + ',' + (y + 12) + ' L' + (x + 36) + ',' + (y + 22) + ' Q' + (x + 42) + ',' + (y + 30) + ' ' + (x + 30) + ',' + (y + 32) + ' Q' + (x + 20) + ',' + (y + 30) + ' ' + (x + 14) + ',' + (y + 22) + ' Z', fill: 'url(#' + gr + ')', stroke: st, 'stroke-width': 1}, g);
      [4, 7].forEach(r2 => mk('ellipse', {cx: x + 26, cy: y + 24, rx: r2 * 1.4, ry: r2 * 0.7, fill: 'none', stroke: st, 'stroke-width': 0.5}, g));
      const vx = x + 20;
      mk('line', {x1: vx, y1: y, x2: vx, y2: y + h, stroke: '#555', 'stroke-width': 0.8}, g);
      mk('line', {x1: x, y1: y + 23, x2: x + cw[ci], y2: y + 23, stroke: '#555', 'stroke-width': 0.8}, g);
      const t1 = txt(nCD4[ri][ci], {x: x + cw[ci] - 2, y: y + 19, 'text-anchor': 'end', 'font-size': 9.5, 'font-weight': 'bold', fill: '#111'}, g);
      
      
      const t2 = txt(nCD8[ri][ci], {transform: 'translate(' + (x + 15) + ' ' + (y + h - 3) + ') rotate(-90)', 'font-size': 9.5, 'font-weight': 'bold', fill: '#111'}, g);
      
      
    });
  });
})();
</script>
</body></html>
